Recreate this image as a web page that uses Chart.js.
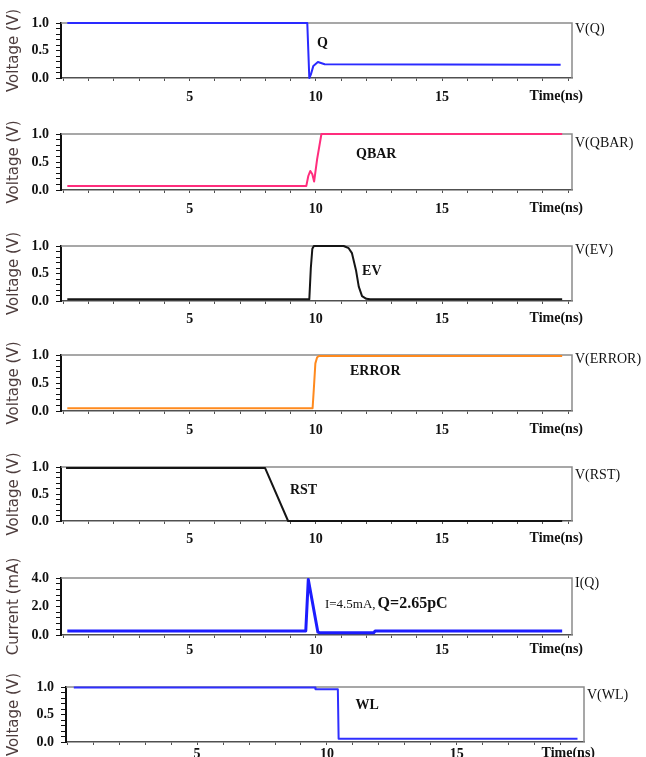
<!DOCTYPE html>
<html>
<head>
<meta charset="utf-8">
<script src="https://cdn.jsdelivr.net/npm/chart.js@4.4.1/dist/chart.umd.min.js"></script>
<style>
html, body { margin: 0; padding: 0; background: #fff; }
#wrap { position: relative; width: 646px; height: 757px; overflow: hidden; }
#wrap canvas { position: absolute; left: 0; }
</style>
</head>
<body>
<div id="wrap"></div>
<script>
// waveforms, time in ns
var qTime = [0.15, 9.66, 9.70, 9.74, 9.80, 9.90, 10.08, 10.35, 19.7];
var qVolt = [1.0, 1.0, 0.5, 0.0, 0.06, 0.22, 0.29, 0.25, 0.24];

var qbarTime = [0.15, 9.62, 9.70, 9.78, 9.86, 9.93, 10.05, 10.22, 19.76];
var qbarVolt = [0.07, 0.07, 0.25, 0.34, 0.28, 0.15, 0.55, 1.0, 1.0];

var evTime = [0.15, 9.74, 9.80, 9.86, 9.92, 11.1, 11.3, 11.43, 11.59, 11.70, 11.83, 12.0, 12.15, 19.76];
var evVolt = [0.03, 0.03, 0.6, 0.95, 1.0, 1.0, 0.96, 0.87, 0.56, 0.26, 0.09, 0.04, 0.03, 0.03];

var errTime = [0.15, 9.87, 9.92, 9.98, 10.05, 10.12, 19.76];
var errVolt = [0.05, 0.05, 0.4, 0.85, 0.96, 0.98, 0.98];

var rstTime = [0.1, 7.99, 8.9, 19.76];
var rstVolt = [0.98, 0.98, 0.0, 0.0];

var iTime = [0.15, 9.60, 9.70, 10.08, 10.15, 12.3, 12.35, 19.76];
var iCurr = [0.28, 0.28, 3.9, 0.2, 0.16, 0.16, 0.28, 0.28];

var wlTime = [0.25, 9.54, 9.56, 10.42, 10.45, 19.65];
var wlVolt = [0.99, 0.99, 0.96, 0.96, 0.06, 0.06];

var xTickLabels = [5, 10, 15];
var voltTickLabels = [0, 0.5, 1];
var currTickLabels = [0, 2, 4];

var signalNames = ['V(Q)', 'V(QBAR)', 'V(EV)', 'V(ERROR)', 'V(RST)', 'I(Q)', 'V(WL)'];
var traceNames = ['Q', 'QBAR', 'EV', 'ERROR', 'RST', 'I=4.5mA,', 'WL'];

var serif = "'Liberation Serif', 'Times New Roman', serif";

// layout of each strip (frame edges in page px)
var panels = [
  {t: qTime, v: qVolt, color: '#2a2aff', lw: 2, top: 23, bottom: 78, left: 61, right: 572, xmin: -0.1, xmax: 20.15, pad: 8, nameDy: 6, at: [10.04, 0.63]},
  {t: qbarTime, v: qbarVolt, color: '#ff2d7d', lw: 2, top: 134, bottom: 190, left: 61, right: 572, xmin: -0.1, xmax: 20.15, pad: 8, nameDy: 9, at: [11.59, 0.64]},
  {t: evTime, v: evVolt, color: '#151515', lw: 2, top: 246, bottom: 301, left: 61, right: 572, xmin: -0.1, xmax: 20.15, pad: 7, nameDy: 4, at: [11.83, 0.53]},
  {t: errTime, v: errVolt, color: '#ff8a1e', lw: 2, top: 355, bottom: 411, left: 61, right: 572, xmin: -0.1, xmax: 20.15, pad: 8, nameDy: 4, at: [11.35, 0.71]},
  {t: rstTime, v: rstVolt, color: '#151515', lw: 2, top: 467, bottom: 521, left: 61, right: 572, xmin: -0.1, xmax: 20.15, pad: 7, nameDy: 8, at: [8.97, 0.57]},
  {t: iTime, v: iCurr, color: '#1c1cff', lw: 3, top: 578, bottom: 635, left: 61, right: 572, xmin: -0.1, xmax: 20.15, pad: 4, nameDy: 5, at: [10.36, 2.1], current: true},
  {t: wlTime, v: wlVolt, color: '#2f2fff', lw: 2, top: 687, bottom: 742, left: 66, right: 584, xmin: -0.05, xmax: 19.9, pad: 1, nameDy: 8, at: [11.1, 0.67]}
];

var CANVAS_H = 110, ABOVE = 26;

function toPoints(ts, vs) {
  var pts = [];
  for (var i = 0; i < ts.length; i++) pts.push({x: ts[i], y: vs[i]});
  return pts;
}

function near(v, list) {
  for (var i = 0; i < list.length; i++) if (Math.abs(v - list[i]) < 1e-6) return true;
  return false;
}

var stripPlugin = {
  id: 'strip',
  beforeDatasetsDraw: function(chart) {
    var a = chart.chartArea, ctx = chart.ctx;
    ctx.save();
    ctx.strokeStyle = '#8a8a8a';
    ctx.lineWidth = 1.5;
    ctx.beginPath();
    ctx.moveTo(a.left, a.top);
    ctx.lineTo(a.right, a.top);
    ctx.lineTo(a.right, a.bottom);
    ctx.stroke();
    ctx.restore();
  },
  afterDraw: function(chart) {
    var p = chart.options.plugins.strip;
    var a = chart.chartArea, ctx = chart.ctx;
    var xs = chart.scales.x, ys = chart.scales.y;
    ctx.save();
    ctx.fillStyle = '#111';
    ctx.textBaseline = 'middle';
    ctx.textAlign = 'left';
    ctx.font = '14px ' + serif;
    ctx.fillText(p.name, a.right + 3, a.top + p.nameDy);

    ctx.textAlign = 'right';
    ctx.font = 'bold 14px ' + serif;
    ctx.fillText('Time(ns)', a.right + 11, a.bottom + 3 + p.pad + 7);

    ctx.textAlign = 'left';
    var lx = xs.getPixelForValue(p.at[0]), ly = ys.getPixelForValue(p.at[1]);
    if (p.extra) {
      ctx.font = '13px ' + serif;
      ctx.fillText(p.label, lx, ly);
      var w = ctx.measureText(p.label).width;
      ctx.font = 'bold 16px ' + serif;
      ctx.fillText(p.extra, lx + w + 2, ly - 1);
    } else {
      ctx.font = 'bold 14px ' + serif;
      ctx.fillText(p.label, lx, ly);
    }
    ctx.restore();
  }
};

var wrap = document.getElementById('wrap');

panels.forEach(function(p, i) {
  var cv = document.createElement('canvas');
  cv.width = 646;
  cv.height = CANVAS_H;
  cv.style.top = (p.top - ABOVE) + 'px';
  wrap.appendChild(cv);

  var frameH = p.bottom - p.top;
  var labels = p.current ? currTickLabels : voltTickLabels;

  new Chart(cv.getContext('2d'), {
    type: 'line',
    data: {
      datasets: [{
        data: toPoints(p.t, p.v),
        borderColor: p.color,
        borderWidth: p.lw,
        borderJoinStyle: 'round',
        pointRadius: 0,
        tension: 0,
        fill: false,
        clip: 6
      }]
    },
    options: {
      responsive: false,
      animation: false,
      layout: {padding: {left: 0, top: ABOVE, right: 646 - p.right, bottom: 0}},
      plugins: {
        legend: {display: false},
        tooltip: {enabled: false},
        strip: {
          name: signalNames[i],
          label: traceNames[i],
          extra: p.current ? 'Q=2.65pC' : null,
          nameDy: p.nameDy,
          pad: p.pad,
          at: p.at
        }
      },
      scales: {
        x: {
          type: 'linear',
          min: p.xmin,
          max: p.xmax,
          afterFit: function(s) { s.height = CANVAS_H - ABOVE - frameH; },
          border: {display: true, color: '#505050', width: 1.5},
          grid: {drawOnChartArea: false, drawTicks: true, tickLength: 3, color: '#505050'},
          ticks: {
            stepSize: 1,
            autoSkip: false,
            includeBounds: false,
            maxRotation: 0,
            padding: p.pad,
            color: '#111',
            font: {family: serif, size: 14, weight: 'bold'},
            callback: function(v) { return near(v, xTickLabels) ? String(Math.round(v)) : ''; }
          }
        },
        y: {
          type: 'linear',
          min: 0,
          max: p.current ? 4 : 1,
          afterFit: function(s) { s.width = p.left; },
          border: {display: true, color: '#111', width: 2},
          grid: {drawOnChartArea: false, drawTicks: true, tickLength: 5, color: '#111'},
          title: {
            display: true,
            text: p.current ? 'Current (mA)' : 'Voltage (V)',
            color: '#4d3d3d',
            font: {family: "'DejaVu Sans', sans-serif", size: 15},
            padding: {top: 5, bottom: 0}
          },
          ticks: {
            stepSize: p.current ? 0.4 : 0.1,
            autoSkip: false,
            padding: 7,
            color: '#111',
            font: {family: serif, size: 14, weight: 'bold'},
            callback: function(v) { return near(v, labels) ? v.toFixed(1) : ''; }
          }
        }
      }
    },
    plugins: [stripPlugin]
  });
});
</script>
</body>
</html>
